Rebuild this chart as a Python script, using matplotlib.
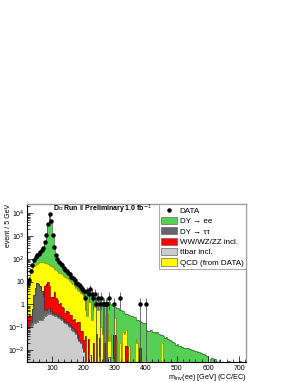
import numpy as np
import matplotlib
matplotlib.use("Agg")
from matplotlib import pyplot as plt
from matplotlib.patches import Patch
from matplotlib.lines import Line2D
from matplotlib.ticker import FixedLocator, MultipleLocator, LogLocator, NullFormatter, FuncFormatter

plt.rcParams['font.family'] = ['Liberation Sans', 'DejaVu Sans']

# 5 GeV bins from 20 to 720 GeV
edges = np.arange(20, 725, 5)
nbins = len(edges) - 1


def pad(v):
    return np.r_[np.array(v, dtype=float), np.zeros(nbins - len(v))]


# events per bin
ttbar = pad([0.09, 0.1, 0.12, 0.13, 0.15, 0.16, 0.18, 0.2, 0.2, 0.22,
             0.25, 0.3, 0.35, 0.4, 0.42, 0.38, 0.33, 0.3, 0.32, 0.28,
             0.26, 0.24, 0.22, 0.18, 0.15, 0.14, 0.12, 0.1, 0.08, 0.07,
             0.06, 0.05, 0.035, 0.025, 0.02, 0.012, 0.008, 0, 0, 0,
             0.006, 0, 0, 0, 0, 0, 0.005, 0, 0, 0,
             0, 0, 0.005, 0, 0, 0.004])
dy_tautau = pad([0, 0, 0.05, 0.5, 2.5, 5, 8.5, 7.5, 6, 3.6,
                 2.0, 0.3, 0.25, 0.3, 0.25, 0.12, 0.08, 0.1, 0.07, 0.06,
                 0.05, 0.06, 0.04, 0.05, 0.03, 0.04, 0.02, 0.03, 0.02, 0.02,
                 0.015, 0.01, 0.01])
diboson = pad([0.2, 0.3, 0.15, 0, 0, 0, 0, 0, 0, 0,
               0.5, 6, 7, 8.5, 6, 1.6, 1.8, 3, 1.5, 1.2,
               0.7, 0.9, 0.5, 0.45, 0.25, 0.35, 0.35, 0.2, 0.25, 0.12,
               0.15, 0.1, 0.12, 0.14, 0.05, 0.06, 0.02, 0.04, 0, 0.03,
               0, 0, 0.02, 0, 0.05, 0, 0.03, 0, 0, 0.02,
               0, 0, 0, 0, 0, 0.04, 0.045, 0, 0, 0,
               0, 0, 0, 0.015, 0.014, 0, 0, 0, 0, 0,
               0, 0, 0.012])
qcd = pad([5.7, 11.6, 25.7, 37.4, 45.3, 49.8, 51.3, 57.3, 63.8, 69.2,
           69.3, 61.4, 56.4, 48.8, 47.3, 45.9, 39.8, 33.6, 31.1, 26.5,
           24, 21.8, 20.2, 17.3, 15.6, 13.5, 12, 10.7, 8.65, 7.6,
           6.1, 5.3, 4.3, 3.6, 3.1, 2.7, 2.3, 2.0, 0.3, 1.6,
           1.3, 0.2, 1.0, 0.8, 0.7, 0.6, 0.75, 0.1, 0.05, 0.3,
           0, 0.4, 0.02, 0.05, 0, 0.2, 0.2, 0.03, 0, 0.02,
           0, 0.06, 0.05, 0.06, 0, 0.015, 0, 0, 0, 0.03,
           0.02, 0, 0, 0, 0, 0, 0, 0, 0, 0,
           0, 0, 0, 0, 0, 0, 0.02])
dy_ee = pad([3, 4, 9, 22, 37, 60, 85, 105, 125, 157,
             228, 412, 1036, 3142, 8446, 4152, 1058, 293, 127, 77,
             53, 39, 29, 23, 18, 15, 11.5, 9, 8, 6.2,
             5.2, 4.0, 3.5, 3.0, 2.6, 2.2, 1.97, 1.76, 3.0, 1.27,
             1.29, 2.1, 1.08, 1.1, 0.95, 0.95, 0.67, 1.25, 1.2, 0.83,
             1.2, 0.7, 1.22, 0.95, 0.95, 0.61, 0.55, 0.67, 0.72, 0.58,
             0.55, 0.44, 0.37, 0.29, 0.37, 0.32, 0.32, 0.3, 0.28, 0.24,
             0.2, 0.2, 0.18, 0.17, 0.16, 0.15, 0.075, 0.07, 0.068, 0.075,
             0.065, 0.06, 0.058, 0.062, 0.05, 0.045, 0.028, 0.04, 0.035, 0.036,
             0.03, 0.028, 0.025, 0.022, 0.02, 0.017, 0.018, 0.016, 0.015, 0.014,
             0.013, 0.013, 0.012, 0.012, 0.011, 0.0105, 0.01, 0.0095, 0.009, 0.0085,
             0.008, 0.0072, 0.0068, 0.0065, 0.0062, 0.0058, 0, 0.0042, 0.0045, 0,
             0.004, 0.0035, 0, 0.0038, 0, 0, 0, 0, 0, 0.0033,
             0, 0, 0, 0, 0, 0, 0.0033])
data = pad([8, 12, 28, 55, 85, 120, 150, 170, 200, 240,
            310, 520, 1150, 3400, 8900, 4300, 1100, 340, 150, 100,
            75, 60, 52, 40, 33, 30, 24, 21, 16, 14,
            12, 9, 8, 7, 6, 5, 4, 2, 4, 3,
            5, 3, 2, 3, 1, 2, 1, 2, 1, 1,
            1, 1, 2, 0, 0, 1, 0, 0, 0, 2,
            0, 0, 0, 0, 0, 0, 0, 0, 0, 0,
            0, 0, 1, 0, 0, 0, 1])

samples = [ttbar, dy_tautau, diboson, qcd, dy_ee]
labels = ["ttbar incl.", "DY \u2192 \u03c4\u03c4", "WW/WZ/ZZ incl.", "QCD (from DATA)", "DY \u2192 ee"]
fills = ["#cccccc", "#666666", "#ff0000", "#ffff00", "#55d055"]
lines = ["#555555", "#333333", "#770000", "#888800", "#336633"]

floor = 1e-6
fig = plt.figure(figsize=(2.95, 3.82), dpi=100)
ax = fig.add_axes([0.0915, 0.052, 0.7425, 0.414])

stack = np.cumsum(samples, axis=0)
# draw like root: biggest sum first, each filled from the bottom
for k in range(len(samples) - 1, -1, -1):
    h = np.maximum(stack[k], floor)
    ax.stairs(h, edges, baseline=floor, fill=True, color=fills[k], lw=0)
    ax.stairs(h, edges, baseline=None, color=lines[k], lw=0.5)

centers = 0.5 * (edges[1:] + edges[:-1])
sel = data > 0
n = data[sel]
err = np.sqrt(n)
lo = n - np.maximum(n - err, 1e-5)
ax.errorbar(centers[sel], n, yerr=[lo, err], fmt="o", color="black",
            ms=2.2, lw=0.6, elinewidth=0.6, capsize=0, ecolor="0.35", zorder=5)

ax.set_yscale("log")
ax.set_xlim(20, 722)
ax.set_ylim(3e-3, 2.5e4)

ax.yaxis.set_major_locator(FixedLocator([1e-2, 1e-1, 1, 10, 1e2, 1e3, 1e4]))
ax.yaxis.set_minor_locator(LogLocator(base=10, subs=np.arange(2, 10)))
ax.yaxis.set_minor_formatter(NullFormatter())
ylabels = {1e-2: "10$^{-2}$", 1e-1: "10$^{-1}$", 1: "1", 10: "10",
           1e2: "10$^{2}$", 1e3: "10$^{3}$", 1e4: "10$^{4}$"}
ax.yaxis.set_major_formatter(FuncFormatter(lambda v, p: ylabels.get(v, "")))
ax.xaxis.set_major_locator(FixedLocator([100, 200, 300, 400, 500, 600, 700]))
ax.xaxis.set_minor_locator(MultipleLocator(20))

ax.tick_params(which="both", direction="in", labelsize=5, pad=2, width=0.5)
ax.tick_params(which="major", length=4)
ax.tick_params(which="minor", length=2)
for s in ["left", "bottom"]:
    ax.spines[s].set_linewidth(0.8)
for s in ["top", "right"]:
    ax.spines[s].set_color("0.6")
    ax.spines[s].set_linewidth(1.0)

ax.text(-0.085, 1.0, "event / 5 GeV", transform=ax.transAxes, rotation=90,
        ha="center", va="top", fontsize=5)
ax.text(1.0, -0.06, "m$_{\\rm inv}$(ee) [GeV] (CC/EC)", transform=ax.transAxes,
        ha="right", va="top", fontsize=5.2)
ax.text(0.12, 0.965, "D\u2205 Run II Preliminary 1.0 fb$^{-1}$", transform=ax.transAxes,
        ha="left", va="center", fontsize=5, fontweight="bold")

handles = [Line2D([], [], marker="o", color="black", ls="none", ms=2.2)]
names = ["DATA"]
for k in [4, 1, 2, 0, 3]:
    handles.append(Patch(facecolor=fills[k], edgecolor="0.4", lw=0.5))
    names.append(labels[k])
leg = ax.legend(handles, names, loc="upper right", bbox_to_anchor=(1.0, 1.0),
                fontsize=5.8, frameon=True, fancybox=False, borderpad=0.3,
                handlelength=2.0, handleheight=1.0, handletextpad=0.3,
                labelspacing=0.25, borderaxespad=0)
leg.get_frame().set_edgecolor("0.6")
leg.get_frame().set_linewidth(0.8)

fig.savefig("out.png", dpi=100)
